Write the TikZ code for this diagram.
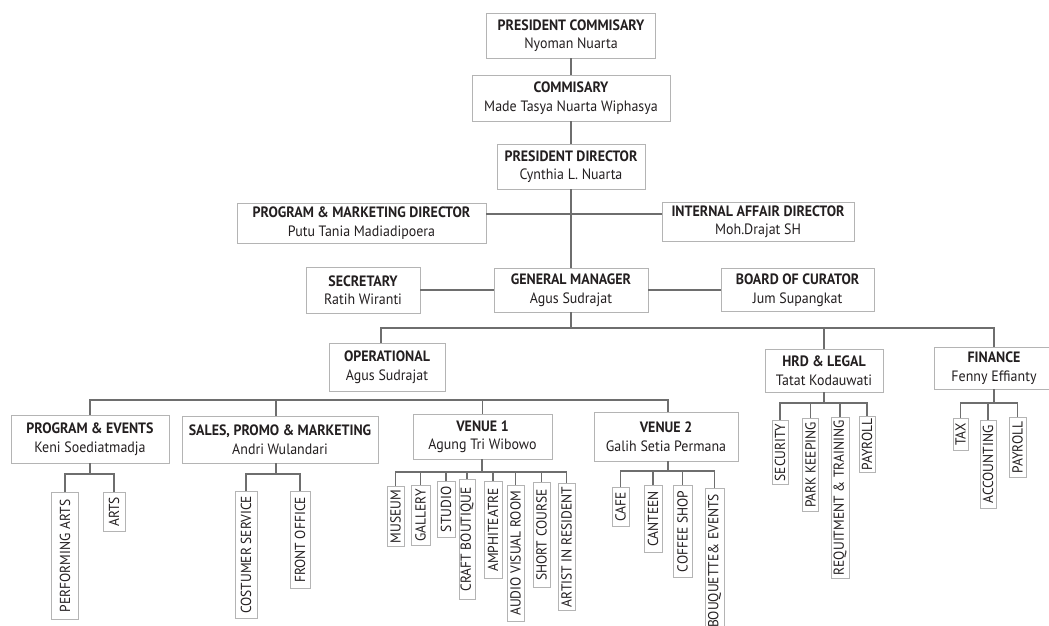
\documentclass[tikz,border=0pt]{standalone}
\usepackage{fontspec}
\setmainfont{PT Sans}[FakeStretch=0.93]
\definecolor{ink}{HTML}{231F20}
\definecolor{boxgray}{HTML}{B4B4B4}
\definecolor{linegray}{HTML}{6E6E6E}
\begin{document}
\begin{tikzpicture}[x=1pt,y=-1pt,
  unit/.style={draw=boxgray, line width=0.9pt, align=center, inner sep=0pt,
    text=ink, font=\fontsize{15}{18.5}\selectfont},
  leaf/.style={draw=boxgray, line width=0.9pt, rotate=90, anchor=east,
    inner sep=0pt, text=ink, font=\fontsize{14.5}{15}\selectfont},
  link/.style={draw=linegray, line width=1.1pt}
]
\clip (0,0) rectangle (1049,626);

% ---- board and directors ----
\node[unit, minimum width=169, minimum height=45] (pc) at (571,35.5)
  {\textbf{PRESIDENT COMMISARY}\\Nyoman Nuarta};
\node[unit, minimum width=198, minimum height=46] (com) at (571,98)
  {\textbf{COMMISARY}\\Made Tasya Nuarta Wiphasya};
\node[unit, minimum width=148, minimum height=45] (pd) at (571,166.5)
  {\textbf{PRESIDENT DIRECTOR}\\Cynthia L. Nuarta};
\node[unit, minimum width=249, minimum height=40] (pmd) at (361.5,223)
  {\textbf{PROGRAM \& MARKETING DIRECTOR}\\Putu Tania Madiadipoera};
\node[unit, minimum width=192, minimum height=39] (iad) at (758,221.5)
  {\textbf{INTERNAL AFFAIR DIRECTOR}\\Moh.Drajat SH};

% ---- management ----
\node[unit, minimum width=114, minimum height=46] (sec) at (363,290)
  {\textbf{SECRETARY}\\Ratih Wiranti};
\node[unit, minimum width=154, minimum height=44] (gm) at (571,290)
  {\textbf{GENERAL MANAGER}\\Agus Sudrajat};
\node[unit, minimum width=153, minimum height=43] (boc) at (797.5,290)
  {\textbf{BOARD OF CURATOR}\\Jum Supangkat};

% ---- departments ----
\node[unit, minimum width=116, minimum height=48] (ops) at (387,367)
  {\textbf{OPERATIONAL}\\Agus Sudrajat};
\node[unit, minimum width=118, minimum height=43] (hrd) at (824,370.5)
  {\textbf{HRD \& LEGAL}\\Tatat Kodauwati};
\node[unit, minimum width=120, minimum height=42] (fin) at (994,368)
  {\textbf{FINANCE}\\Fenny Effianty};

% ---- operational units ----
\node[unit, minimum width=158, minimum height=48] (pe) at (90,439)
  {\textbf{PROGRAM \& EVENTS}\\Keni Soediatmadja};
\node[unit, minimum width=196, minimum height=47] (sales) at (280,439.5)
  {\textbf{SALES, PROMO \& MARKETING}\\Andri Wulandari};
\node[unit, minimum width=139, minimum height=45] (v1) at (482.5,436.5)
  {\textbf{VENUE 1}\\Agung Tri Wibowo};
\node[unit, minimum width=144, minimum height=49] (v2) at (666,436.5)
  {\textbf{VENUE 2}\\Galih Setia Permana};

% ---- sections (vertical labels) ----
\node[leaf, minimum width=127, minimum height=27] (pe1) at (65,492) {PERFORMING ARTS};
\node[leaf, minimum width=39, minimum height=22] (pe2) at (114,492) {ARTS};

\node[leaf, minimum width=127, minimum height=22] (sa1) at (246,491) {COSTUMER SERVICE};
\node[leaf, minimum width=97, minimum height=20] (sa2) at (300,491) {FRONT OFFICE};

\node[leaf, minimum width=60, minimum height=17] (va) at (395.5,486) {MUSEUM};
\node[leaf, minimum width=60, minimum height=19] (vb) at (420.5,485) {GALLERY};
\node[leaf, minimum width=56, minimum height=18] (vc) at (446,481) {STUDIO};
\node[leaf, minimum width=120, minimum height=16] (vd) at (467,479) {CRAFT BOUTIQUE};
\node[leaf, minimum width=97, minimum height=18] (ve) at (493,481) {AMPHITEATRE};
\node[leaf, minimum width=136, minimum height=17] (vf) at (515.5,485) {AUDIO VISUAL ROOM};
\node[leaf, minimum width=105, minimum height=17] (vg) at (541.5,482) {SHORT COURSE};
\node[leaf, minimum width=127, minimum height=17] (vh) at (566.5,483) {ARTIST IN RESIDENT};

\node[leaf, minimum width=39, minimum height=17] (wa) at (620.5,487) {CAFE};
\node[leaf, minimum width=67, minimum height=18] (wb) at (653,485) {CANTEEN};
\node[leaf, minimum width=92, minimum height=19] (wc) at (682.5,485) {COFFEE SHOP};
\node[leaf, minimum width=145, minimum height=19] (wd) at (714.5,488) {BOUQUETTE\& EVENTS};

\node[leaf, minimum width=64, minimum height=16] (ha) at (780,420) {SECURITY};
\node[leaf, minimum width=93, minimum height=16] (hb) at (810.5,418) {PARK KEEPING};
\node[leaf, minimum width=161, minimum height=18] (hc) at (840,417) {REQUITMENT \& TRAINING};
\node[leaf, minimum width=56, minimum height=16] (hd) at (867,416) {PAYROLL};

\node[leaf, minimum width=32, minimum height=15] (fa) at (960.5,418) {TAX};
\node[leaf, minimum width=88, minimum height=16] (fb) at (988,420) {ACCOUNTING};
\node[leaf, minimum width=60, minimum height=17] (fc) at (1017.5,417) {PAYROLL};

% ---- connectors: top chain ----
\coordinate (dirbus) at (571,214);
\draw[link] (pc) -- (com);
\draw[link] (com) -- (pd);
\draw[link] (pd) -- (gm);
\draw[link] (pmd.east |- dirbus) -- (iad.west |- dirbus);
\draw[link] (sec) -- (gm);
\draw[link] (gm) -- (boc);

% ---- connectors: departments ----
\coordinate (mbus) at (571,328);
\draw[link] (gm) -- (mbus);
\draw[link] ([xshift=-6pt]ops.north) |- (mbus) -| (fin.north);
\draw[link] (hrd.north) -- (hrd.north |- mbus);

% ---- connectors: operational units ----
\coordinate (obus) at (381,400);
\draw[link] (pe.north) |- (obus) -| ([xshift=2pt]v2.north);
\draw[link] ([xshift=-4pt]sales.north) -- ([xshift=-4pt]sales.north |- obus);
\draw[link] (v1.north) -- (v1.north |- obus);

% ---- connectors: sections ----
\coordinate (pebus) at (90,474);
\draw[link] (pe.south) -- (pebus);
\foreach \n in {pe1,pe2} \draw[link] (\n.east) |- (pebus);

\coordinate (sabus) at (276,474);
\draw[link] (sales.south -| sabus) -- (sabus);
\foreach \n in {sa1,sa2} \draw[link] (\n.east) |- (sabus);

\coordinate (v1bus) at (482,472);
\draw[link] (v1.south -| v1bus) -- (v1bus);
\foreach \n in {va,vb,vc,vd,ve,vf,vg,vh} \draw[link] (\n.east) |- (v1bus);

\coordinate (v2bus) at (668,471);
\draw[link] (v2.south -| v2bus) -- (v2bus);
\foreach \n in {wa,wb,wc,wd} \draw[link] (\n.east) |- (v2bus);

\coordinate (hbus) at (824,403);
\draw[link] (hrd.south) -- (hbus);
\foreach \n in {ha,hb,hc,hd} \draw[link] (\n.east) |- (hbus);

\coordinate (fbus) at (994,403);
\draw[link] (fin.south) -- (fbus);
\foreach \n in {fa,fb,fc} \draw[link] (\n.east) |- (fbus);
\end{tikzpicture}
\end{document}
